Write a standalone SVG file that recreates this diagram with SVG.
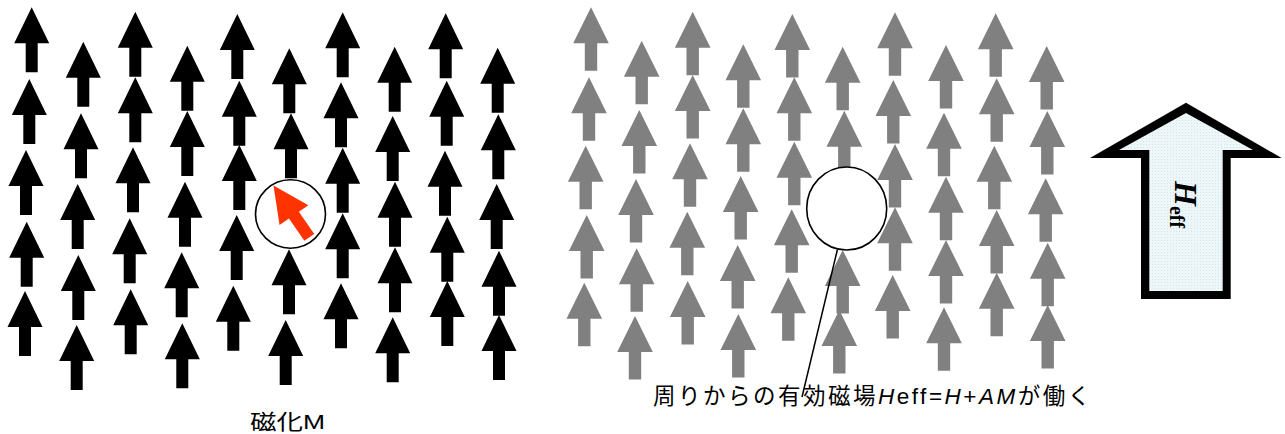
<svg xmlns="http://www.w3.org/2000/svg" xmlns:xlink="http://www.w3.org/1999/xlink" width="1285" height="434" viewBox="0 0 1285 434">
  <style>
    .blk { fill: #000000; }
    .gry { fill: #808080; }
    .ring { fill: #ffffff; stroke: #000000; stroke-width: 1.6; }
    .lbl { font-family: "Liberation Sans", "Noto Sans CJK JP", sans-serif; font-size: 21px; fill: #000000; }
    .conn { stroke: #000000; stroke-width: 1.5; fill: none; }
  </style>
  <defs>
    <path id="ab" d="M0,0 L17.5,36 L6,36 L6,65 L-6,65 L-6,36 L-17.5,36 Z"/>
    <path id="ag" d="M0,0 L17.8,36 L6.2,36 L6.2,63.5 L-6.2,63.5 L-6.2,36 L-17.8,36 Z"/>
    <pattern id="dots" width="3" height="3" patternUnits="userSpaceOnUse">
      <rect width="3" height="3" fill="#EDF6F8"/>
      <rect width="1" height="1" fill="#D3E3E7"/>
    </pattern>
  </defs>

  <g id="magnetization-field" class="blk">
    <use href="#ab" x="31.7" y="7.3"/><use href="#ab" x="29.3" y="79"/><use href="#ab" x="26" y="150"/><use href="#ab" x="26.7" y="221.7"/><use href="#ab" x="25" y="291"/>
    <use href="#ab" x="83.3" y="41.7"/><use href="#ab" x="81" y="113.3"/><use href="#ab" x="77.7" y="184"/><use href="#ab" x="78.3" y="255"/><use href="#ab" x="76.7" y="325"/>
    <use href="#ab" x="135.3" y="11.7"/><use href="#ab" x="135.3" y="77.3"/><use href="#ab" x="133" y="147.3"/><use href="#ab" x="129.7" y="218.3"/><use href="#ab" x="130.7" y="289.3"/>
    <use href="#ab" x="187.3" y="45.7"/><use href="#ab" x="187.3" y="111"/><use href="#ab" x="185" y="181.7"/><use href="#ab" x="181.7" y="252.3"/><use href="#ab" x="182.3" y="323.3"/>
    <use href="#ab" x="237.3" y="14"/><use href="#ab" x="239.3" y="80.7"/><use href="#ab" x="239.3" y="145"/><use href="#ab" x="236.7" y="215"/><use href="#ab" x="233.3" y="285.7"/>
    <use href="#ab" x="289.3" y="48.3"/><use href="#ab" x="291" y="113.3"/><use href="#ab" x="289" y="249.3"/><use href="#ab" x="285.7" y="320"/>
    <use href="#ab" x="342.7" y="12.3"/><use href="#ab" x="341" y="82.3"/><use href="#ab" x="342.7" y="147.7"/><use href="#ab" x="342.7" y="213.3"/><use href="#ab" x="341" y="283.3"/>
    <use href="#ab" x="394.7" y="46.7"/><use href="#ab" x="392.7" y="116"/><use href="#ab" x="395" y="181.7"/><use href="#ab" x="395" y="247.3"/><use href="#ab" x="392.7" y="317.3"/>
    <use href="#ab" x="445.7" y="13.3"/><use href="#ab" x="446.7" y="80.7"/><use href="#ab" x="445" y="150.7"/><use href="#ab" x="447.3" y="216.7"/><use href="#ab" x="447.3" y="281"/>
    <use href="#ab" x="497.7" y="47.7"/><use href="#ab" x="498.3" y="114.3"/><use href="#ab" x="496.7" y="184"/><use href="#ab" x="499" y="250.7"/><use href="#ab" x="499" y="315"/>
  </g>

  <g id="focus-spin">
    <ellipse class="ring" cx="290.5" cy="214" rx="35" ry="34.2"/>
    <path d="M0,0 L17.5,36 L6,36 L6,63 L-6,63 L-6,36 L-17.5,36 Z" fill="#FF3300" transform="translate(273.5,185.5) rotate(-34.6)"/>
  </g>

  <g id="effective-field" class="gry">
    <use href="#ag" x="591" y="7.3"/><use href="#ag" x="589" y="77.3"/><use href="#ag" x="585.7" y="145.7"/><use href="#ag" x="586.7" y="215"/><use href="#ag" x="584.3" y="282.7"/>
    <use href="#ag" x="641.7" y="40.7"/><use href="#ag" x="639.3" y="110"/><use href="#ag" x="636" y="179"/><use href="#ag" x="636.7" y="248.3"/><use href="#ag" x="635" y="316"/>
    <use href="#ag" x="692.7" y="11.7"/><use href="#ag" x="692.7" y="75"/><use href="#ag" x="690" y="143.3"/><use href="#ag" x="687.3" y="211.7"/><use href="#ag" x="687.7" y="281"/>
    <use href="#ag" x="743.3" y="44.3"/><use href="#ag" x="743.3" y="108.3"/><use href="#ag" x="740.7" y="176"/><use href="#ag" x="737.7" y="245"/><use href="#ag" x="738.3" y="314"/>
    <use href="#ag" x="792.3" y="14"/><use href="#ag" x="794.3" y="77.3"/><use href="#ag" x="794.3" y="141.7"/><use href="#ag" x="791.7" y="209.3"/><use href="#ag" x="788.3" y="277.3"/>
    <use href="#ag" x="842.7" y="46.7"/><use href="#ag" x="844.3" y="110.7"/><use href="#ag" x="842.7" y="250"/><use href="#ag" x="839.3" y="310"/>
    <use href="#ag" x="895" y="12.3"/><use href="#ag" x="893.3" y="80"/><use href="#ag" x="895" y="144"/><use href="#ag" x="895" y="207.3"/><use href="#ag" x="892.7" y="275"/>
    <use href="#ag" x="946" y="45"/><use href="#ag" x="944" y="112.7"/><use href="#ag" x="946" y="176.7"/><use href="#ag" x="946" y="240"/><use href="#ag" x="944" y="307.3"/>
    <use href="#ag" x="995.7" y="13.3"/><use href="#ag" x="996.7" y="78.3"/><use href="#ag" x="994.3" y="145.7"/><use href="#ag" x="996.7" y="210"/><use href="#ag" x="996.7" y="272.7"/>
    <use href="#ag" x="1046.7" y="46"/><use href="#ag" x="1047.3" y="111"/><use href="#ag" x="1045.7" y="178.3"/><use href="#ag" x="1047.7" y="242.7"/><use href="#ag" x="1047.7" y="305"/>
  </g>

  <g id="effective-circle">
    <ellipse class="ring" cx="846.7" cy="208.5" rx="40" ry="41.5"/>
  </g>

  <g id="connectors">
    <line class="conn" x1="837.3" y1="250" x2="802" y2="397"/>
  </g>

  <g id="heff-arrow">
    <polygon points="1186,102.7 1281.7,158 1230.7,158 1230.7,299 1141,299 1141,158 1090,158" fill="#000000"/>
    <polygon points="1186,113 1253,150 1222.7,150 1222.7,291 1149.3,291 1149.3,150 1119,150" fill="url(#dots)"/>
    <text transform="translate(1175,181) rotate(90)" font-family="Liberation Serif, serif" font-weight="bold"><tspan font-style="italic" font-size="32">H</tspan><tspan font-size="20" dy="5">eff</tspan></text>
  </g>

  <g id="label-magnetization">
    <text class="lbl" x="250" y="429" textLength="75" lengthAdjust="spacingAndGlyphs">磁化M</text>
  </g>
  <g id="label-effective">
    <text class="lbl" x="653" y="404" font-size="22.5" letter-spacing="2.5" style="font-size:22.5px">周りからの有効磁場<tspan font-style="italic">H</tspan>eff=<tspan font-style="italic">H</tspan>+<tspan font-style="italic">AM</tspan>が働く</text>
  </g>
</svg>
